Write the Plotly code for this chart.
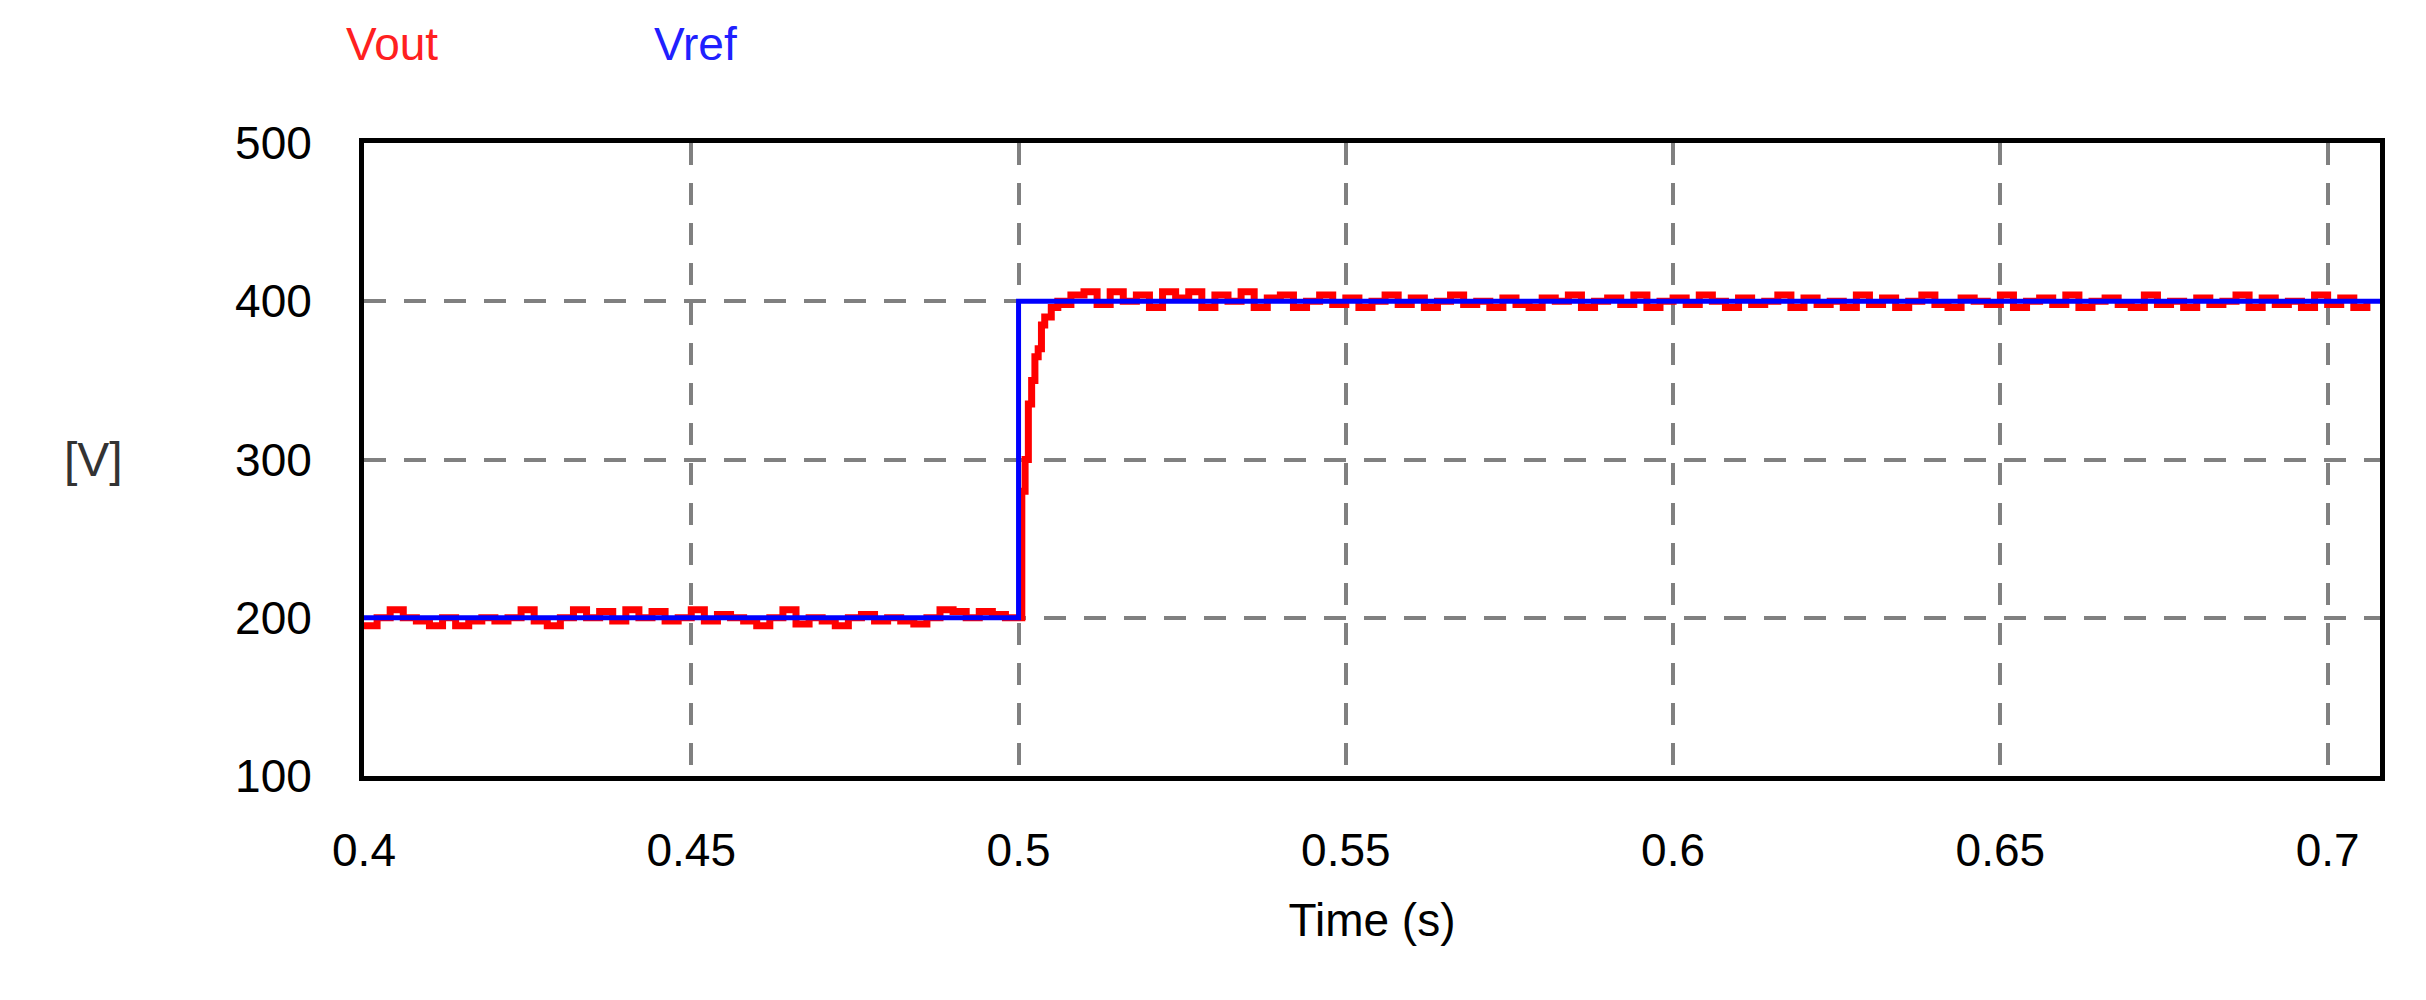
import plotly.graph_objects as go

# Vout samples every 2 ms before the step (0.400 .. 0.498)
t_pre = [round(0.400 + 0.002 * i, 3) for i in range(50)]
v_pre = [195, 200, 205, 200, 198, 195, 200, 195, 198, 200,
         198, 200, 205, 198, 195, 200, 205, 200, 204, 198,
         205, 200, 204, 198, 200, 205, 198, 202, 200, 198,
         195, 200, 205, 196, 200, 198, 195, 200, 202, 198,
         200, 198, 196, 200, 205, 204, 200, 204, 202, 200]
# Rise after step
t_rise = [0.500, 0.5005, 0.501, 0.5015, 0.502, 0.5025, 0.503, 0.5035, 0.504, 0.505, 0.506, 0.507, 0.508]
v_rise = [200, 280, 300, 335, 350, 365, 370, 385, 390, 396, 400, 398, 404]
# Steady state every 2 ms (0.510 .. 0.706)
t_post = [round(0.510 + 0.002 * i, 3) for i in range(99)]
v_post = [406, 398, 406, 400, 404, 396, 406, 402, 406, 396,
          404, 400, 406, 396, 402, 404, 396, 400, 404, 398,
          402, 396, 400, 404, 398, 402, 396, 400, 404, 398,
          400, 396, 402, 398, 396, 402, 400, 404, 396, 400,
          402, 398, 404, 396, 400, 402, 398, 404, 400, 396,
          402, 398, 400, 404, 396, 402, 398, 400, 396, 404,
          398, 402, 396, 400, 404, 398, 396, 402, 400, 398,
          404, 396, 400, 402, 398, 404, 396, 400, 402, 398,
          396, 404, 398, 400, 396, 402, 398, 400, 404, 396,
          402, 398, 400, 396, 404, 398, 402, 396, 400]
t_vout = t_pre + t_rise + t_post
v_vout = v_pre + v_rise + v_post

t_ref = [0.400, 0.500, 0.500, 0.708]
v_ref = [200, 200, 400, 400]

x_ticks = [0.4, 0.45, 0.5, 0.55, 0.6, 0.65, 0.7]
x_labels = ["0.4", "0.45", "0.5", "0.55", "0.6", "0.65", "0.7"]
y_ticks = [100, 200, 300, 400, 500]

fig = go.Figure()
fig.add_trace(go.Scatter(x=t_vout, y=v_vout, mode="lines", line=dict(color="#ff0000", width=7, shape="hv"), name="Vout"))
fig.add_trace(go.Scatter(x=t_ref, y=v_ref, mode="lines", line=dict(color="#0000ff", width=5), name="Vref"))

axis_common = dict(showline=True, linecolor="black", linewidth=5, mirror=True,
                   showgrid=True, gridcolor="#808080", griddash="22px,18px", gridwidth=4,
                   zeroline=False, ticks="", tickfont=dict(family="Liberation Sans", size=46, color="black"))
fig.update_xaxes(range=[0.4, 0.708], tickvals=x_ticks, ticktext=x_labels, ticklabelstandoff=30,
                 title=dict(text="Time (s)", font=dict(family="Liberation Sans", size=46, color="black"), standoff=30),
                 **axis_common)
fig.update_yaxes(range=[100, 500], tickvals=y_ticks, ticklabelstandoff=38, **axis_common)

fig.add_annotation(x=-0.15, y=0.5, xref="paper", yref="paper", text="[V]", showarrow=False,
                   font=dict(family="Liberation Sans", size=48, color="#333"))
fig.add_annotation(x=-0.01, y=1.2, xref="paper", yref="paper", text="Vout", showarrow=False, xanchor="left",
                   font=dict(family="Liberation Sans", size=46, color="#ff2020"))
fig.add_annotation(x=0.143, y=1.2, xref="paper", yref="paper", text="Vref", showarrow=False, xanchor="left",
                   font=dict(family="Liberation Sans", size=46, color="#2020ff"))

fig.update_layout(width=2426, height=1000, plot_bgcolor="white", paper_bgcolor="white", showlegend=False,
                  margin=dict(l=356, r=54, t=135, b=232))
fig.write_html("out.html")
